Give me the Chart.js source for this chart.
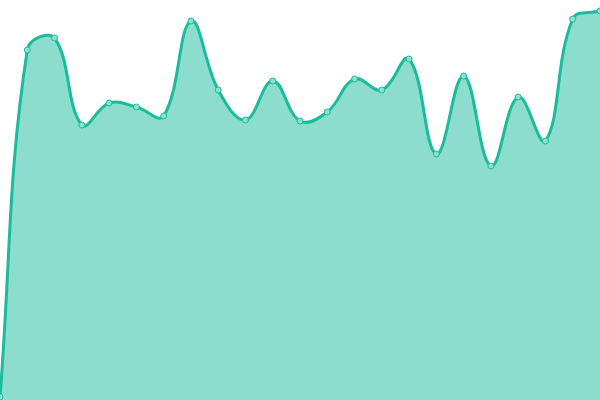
<!DOCTYPE html>
<html>
<head>
<meta charset="utf-8">
<script src="https://cdn.jsdelivr.net/npm/chart.js@4/dist/chart.umd.min.js"></script>
<style>
  html, body { margin: 0; padding: 0; background: #fff; }
  #wrap { width: 600px; height: 400px; }
</style>
</head>
<body>
<div id="wrap"><canvas id="areaChart"></canvas></div>
<script>
// Data (scale 0..400, no axes shown)
const labels = ['1', '2', '3', '4', '5', '6', '7', '8', '9', '10', '11', '12',
  '13', '14', '15', '16', '17', '18', '19', '20', '21', '22', '23']
const values = [3, 350, 362, 275, 297, 293, 284, 379, 310, 280, 319, 279,
  288, 321, 310, 341, 246, 324, 234, 303, 259, 381, 389]
const yRange = [0, 400]

const ctx = document.getElementById('areaChart').getContext('2d')
new Chart(ctx, {
  type: 'line',
  data: {
    labels: labels,
    datasets: [
      {
        data: values,
        borderColor: '#1abc9c',
        backgroundColor: 'rgba(26, 188, 156, 0.5)',
        borderWidth: 3,
        fill: true,
        tension: 0.4,
        pointRadius: 3,
        pointBorderWidth: 1,
        pointBackgroundColor: '#8ee0cf',
        pointBorderColor: '#1abc9c'
      }
    ]
  },
  options: {
    responsive: true,
    maintainAspectRatio: false,
    animation: false,
    // chart area fills the whole canvas, edge points get clipped
    layout: { padding: 0, autoPadding: false },
    plugins: {
      legend: { display: false },
      tooltip: { enabled: false }
    },
    scales: {
      x: { display: false },
      y: { display: false, min: yRange[0], max: yRange[1] }
    }
  }
})
</script>
</body>
</html>
